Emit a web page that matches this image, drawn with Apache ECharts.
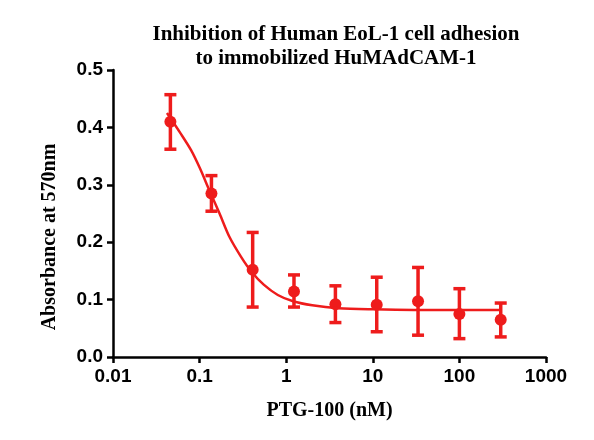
<!DOCTYPE html>
<html>
<head>
<meta charset="utf-8">
<script src="https://cdn.jsdelivr.net/npm/echarts@6/dist/echarts.min.js"></script>
<style>html,body{margin:0;padding:0;background:#fff}#chart{width:594px;height:440px}</style>
</head>
<body>
<div id="chart"></div>
<script>
// measured points
const conc = [0.046, 0.137, 0.41, 1.23, 3.7, 11.1, 33.3, 100, 300];
const absorb = [0.410, 0.285, 0.152, 0.114, 0.092, 0.091, 0.097, 0.075, 0.065];
const errHigh = [0.457, 0.316, 0.217, 0.143, 0.124, 0.139, 0.156, 0.119, 0.094];
const errLow = [0.362, 0.254, 0.087, 0.087, 0.060, 0.044, 0.038, 0.032, 0.035];
// fitted curve
const fitX = [0.042, 0.06, 0.08, 0.1, 0.13, 0.17, 0.22, 0.3, 0.4, 0.55, 0.8, 1.2, 2, 4, 10, 30, 100, 300];
const fitY = [0.425, 0.39, 0.36, 0.33, 0.29, 0.25, 0.21, 0.175, 0.148, 0.126, 0.108, 0.097, 0.09, 0.085, 0.083, 0.082, 0.082, 0.082];

const red = '#ee1c1c';
const chart = echarts.init(document.getElementById('chart'));
const axisFont = { color: '#000', fontFamily: 'Liberation Sans', fontWeight: 'bold', fontSize: 19 };
const nameFont = { fontFamily: 'Liberation Serif', fontWeight: 'bold', fontSize: 20, color: '#000' };

chart.setOption({
  animation: false,
  title: {
    text: 'Inhibition of Human EoL-1 cell adhesion\nto immobilized HuMAdCAM-1',
    left: 331, top: 18, textAlign: 'center',
    textStyle: { fontFamily: 'Liberation Serif', fontWeight: 'bold', fontSize: 21, lineHeight: 24, color: '#000' }
  },
  graphic: [{
    type: 'text', x: 50, y: 237, rotation: Math.PI / 2,
    style: Object.assign({ text: 'Absorbance at 570nm', textAlign: 'center', textVerticalAlign: 'middle', fill: '#000',
      font: 'bold 20px "Liberation Serif"' })
  }],
  grid: { left: 113, right: 48, top: 70, bottom: 83 },
  xAxis: {
    type: 'log', logBase: 10, min: 0.01, max: 1000,
    name: 'PTG-100 (nM)', nameLocation: 'middle', nameGap: 44,
    nameTextStyle: nameFont,
    axisLine: { lineStyle: { color: '#000', width: 2.5 } },
    axisTick: { lineStyle: { color: '#000', width: 2.5 }, length: 6 },
    splitLine: { show: false },
    axisLabel: Object.assign({ margin: 10, formatter: v => String(v) }, axisFont)
  },
  yAxis: {
    type: 'value', min: 0, max: 0.5, interval: 0.1,
    axisLine: { show: true, lineStyle: { color: '#000', width: 2.5 } },
    axisTick: { show: true, lineStyle: { color: '#000', width: 2.5 }, length: 6 },
    splitLine: { show: false },
    axisLabel: Object.assign({ margin: 10, formatter: v => v.toFixed(1) }, axisFont)
  },
  series: [
    {
      type: 'line', data: fitX.map((x, i) => [x, fitY[i]]),
      smooth: 0.3, showSymbol: false, lineStyle: { color: red, width: 2.5 }
    },
    {
      type: 'custom',
      data: conc.map((x, i) => [x, errLow[i], errHigh[i]]),
      renderItem: (params, api) => {
        const lo = api.coord([api.value(0), api.value(1)]);
        const hi = api.coord([api.value(0), api.value(2)]);
        const w = 6;
        const st = { stroke: red, lineWidth: 3.5 };
        return { type: 'group', children: [
          { type: 'line', shape: { x1: lo[0], y1: lo[1], x2: hi[0], y2: hi[1] }, style: st },
          { type: 'line', shape: { x1: lo[0] - w, y1: lo[1], x2: lo[0] + w, y2: lo[1] }, style: st },
          { type: 'line', shape: { x1: hi[0] - w, y1: hi[1], x2: hi[0] + w, y2: hi[1] }, style: st }
        ] };
      }
    },
    {
      type: 'scatter', data: conc.map((x, i) => [x, absorb[i]]),
      symbolSize: 12, itemStyle: { color: red, opacity: 1 }
    }
  ]
});
</script>
</body>
</html>
